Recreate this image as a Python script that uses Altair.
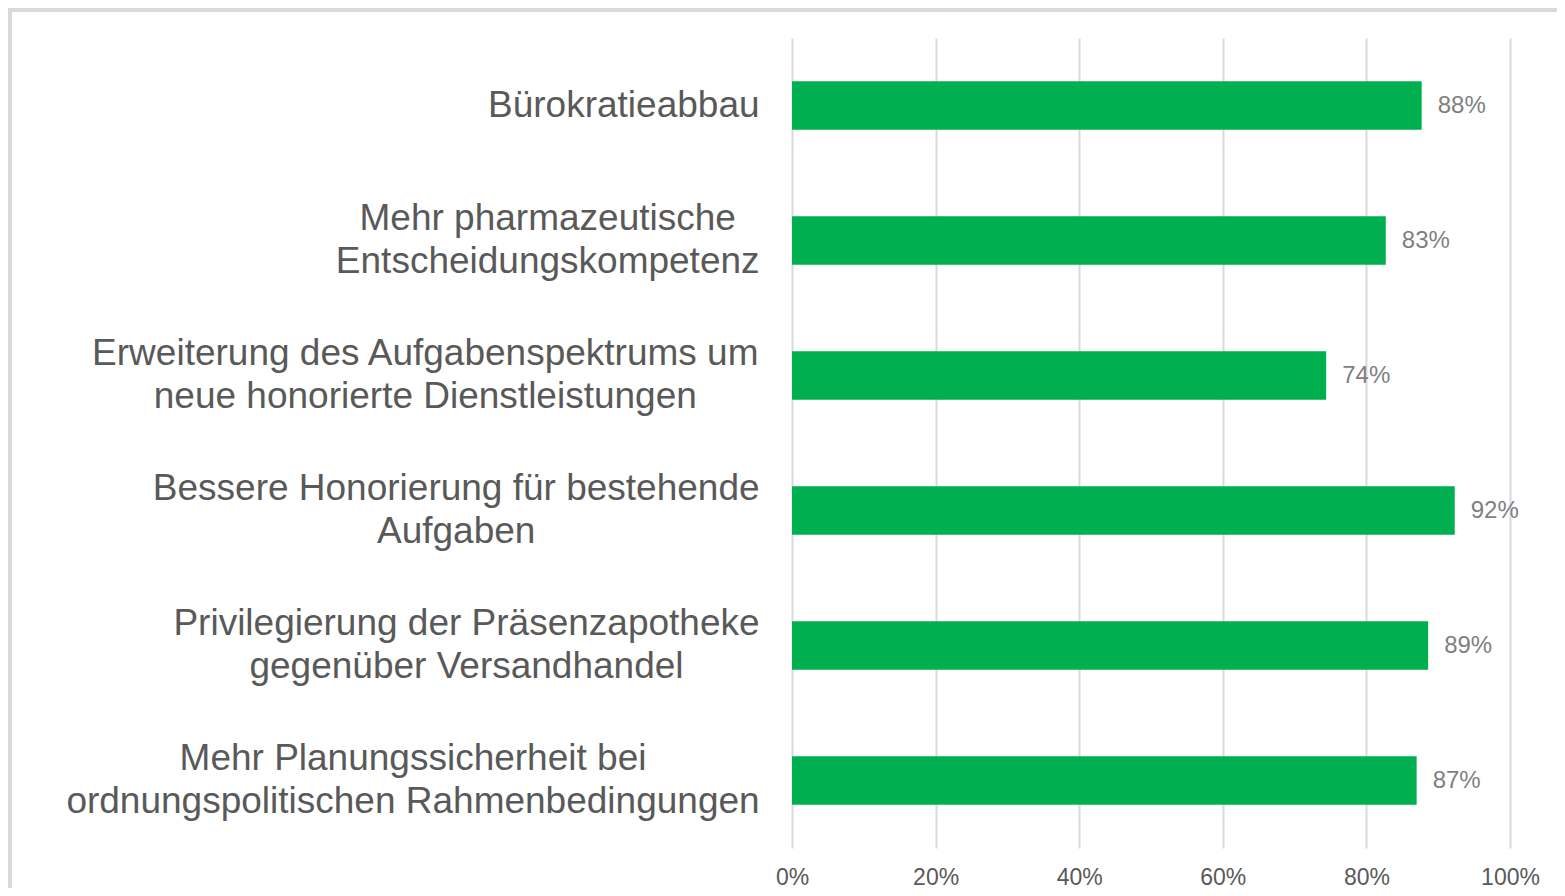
import json
import altair as alt
import pandas as pd

categories = [
    "Bürokratieabbau",
    "Mehr pharmazeutische|Entscheidungskompetenz",
    "Erweiterung des Aufgabenspektrums um|neue honorierte Dienstleistungen",
    "Bessere Honorierung für bestehende|Aufgaben",
    "Privilegierung der Präsenzapotheke|gegenüber Versandhandel",
    "Mehr Planungssicherheit bei|ordnungspolitischen Rahmenbedingungen",
]
values = [0.877, 0.827, 0.744, 0.923, 0.886, 0.870]
x_ticks = [0, 0.2, 0.4, 0.6, 0.8, 1.0]

df = pd.DataFrame({"cat": categories, "val": values})

# Arial / Liberation Sans advance widths (per 1000 em) for centring label lines
W = {" ": 278, "A": 667, "B": 667, "D": 722, "E": 667, "H": 722, "M": 833,
     "P": 667, "R": 722, "V": 667, "a": 556, "b": 556, "c": 500, "d": 556,
     "e": 556, "f": 278, "g": 556, "h": 556, "i": 222, "k": 500, "l": 222,
     "m": 833, "n": 556, "o": 556, "p": 556, "r": 333, "s": 500, "t": 278,
     "u": 556, "v": 500, "w": 722, "z": 500, "ä": 556, "ü": 556}
FS = 37
LH = 43
GAP = 33


def block_width(label):
    return max(sum(W.get(ch, 556) for ch in line) for line in label.split("|")) * FS / 1000


pads = [round(GAP + block_width(c) / 2, 1) for c in categories]
offs = [-(len(c.split("|")) - 1) * LH / 2 for c in categories]
cat_js = json.dumps(categories, ensure_ascii=False)
pad_expr = f"{json.dumps(pads)}[indexof({cat_js}, datum.value)]"
off_expr = f"{json.dumps(offs)}[indexof({cat_js}, datum.value)]"

FONT = "Liberation Sans"

y_enc = alt.Y(
    "cat:N",
    sort=categories,
    scale=alt.Scale(paddingInner=0.64, paddingOuter=0.32),
    axis=alt.Axis(
        title=None, domain=False, ticks=False, tickSize=0, grid=False,
        labelExpr="split(datum.label, '|')",
        labelAlign="center", labelBaseline="middle",
        labelFont=FONT, labelFontSize=FS, labelLineHeight=LH,
        labelColor="#595959", labelLimit=1000,
        labelPadding=alt.ExprRef(pad_expr),
        labelOffset=alt.ExprRef(off_expr),
    ),
)

x_enc = alt.X(
    "val:Q",
    scale=alt.Scale(domain=[0, 1], nice=False),
    axis=alt.Axis(
        title=None, values=x_ticks, format=".0%", domain=False, ticks=False,
        tickSize=0, grid=True, gridColor="#d9d9d9", gridWidth=2,
        labelFont=FONT, labelFontSize=23, labelColor="#595959",
        labelPadding=18, labelFlush=False,
    ),
)

bars = alt.Chart(df).mark_bar(color="#00B050").encode(x=x_enc, y=y_enc)

labels = alt.Chart(df).mark_text(
    align="left", baseline="middle", dx=16, font=FONT, fontSize=24, color="#7f7f7f"
).encode(
    x="val:Q",
    y=alt.Y("cat:N", sort=categories),
    text=alt.Text("val:Q", format=".0%"),
)

frame = alt.Chart(alt.Data(values=[{"f": 1}])).mark_rect(
    fill="transparent", stroke="#d9d9d9", strokeWidth=4
).encode(
    x=alt.value(-782), x2=alt.value(820), y=alt.value(-28), y2=alt.value(920)
)

chart = alt.layer(frame, bars, labels).properties(
    width=718,
    height=810,
    autosize="none",
    padding={"left": 784, "top": 30, "right": 47, "bottom": 40},
).configure_view(stroke=None)

chart.save("out.html", embed_options={"renderer": "svg", "actions": False})
